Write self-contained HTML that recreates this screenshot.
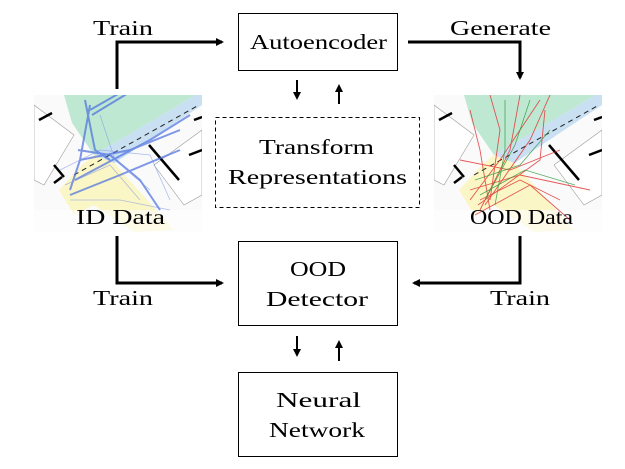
<!DOCTYPE html>
<html><head><style>
body{margin:0;background:#fff;}
svg{display:block;font-family:"Liberation Serif",serif;}
</style></head><body>
<svg width="625" height="469" viewBox="0 0 625 469">
<defs>
<marker id="ah" markerWidth="8" markerHeight="8" refX="6" refY="4" orient="auto" markerUnits="userSpaceOnUse"><path d="M0,0 L8,4 L0,8 Z" fill="#000"/></marker>
<marker id="as" markerWidth="8" markerHeight="8" refX="6" refY="4" orient="auto" markerUnits="userSpaceOnUse"><path d="M0,0 L8,4 L0,8 Z" fill="#000"/></marker>
<clipPath id="c1"><rect x="34" y="95" width="168" height="137"/></clipPath>
<clipPath id="c2"><rect x="434" y="95" width="168" height="137"/></clipPath>
<g id="map">
<rect x="0" y="0" width="168" height="137" fill="#fafafa"/>
<polygon points="30,0 120,0 162,0 60,60 38,28" fill="#bfe8d2"/>
<polygon points="162,0 168,0 168,10 70,75 60,60" fill="#c9dff2"/>
<polygon points="25,95 48,70 60,60 80,68 140,135 100,137 60,110 40,120" fill="#fbf6c5"/>
<polygon points="0,10 40,40 10,90 0,85" fill="#fff" stroke="#999" stroke-width="0.6"/>
<polygon points="120,70 168,35 168,100 150,110" fill="#fff" stroke="#999" stroke-width="0.6"/>
<path d="M5,25 L18,18 M20,70 L30,82 M28,82 L20,88" stroke="#000" stroke-width="2.5" fill="none"/>
<path d="M115,50 L145,85 M160,25 L168,22 M155,60 L168,55" stroke="#000" stroke-width="2.5" fill="none"/>
<path d="M40,80 L165,10" stroke="#222" stroke-width="1" stroke-dasharray="5,4"/>
<rect x="0" y="115" width="168" height="22" fill="#fff" opacity="0.6"/>
</g>
</defs>
<g clip-path="url(#c1)">
<use href="#map" x="34" y="95"/>
<g stroke="#4a6ee0" stroke-width="2" fill="none" opacity="0.7">
<path d="M90,110 L160,70"/><path d="M92,115 L158,75"/><path d="M85,100 L95,150 L110,160"/><path d="M90,105 L80,160 L70,190"/><path d="M75,180 L150,140 L190,115"/><path d="M78,150 L110,155 L140,180 L160,210"/><path d="M70,195 L120,175 L180,150"/><path d="M80,160 L130,150 L180,130"/>
</g>
<g stroke="#7d95ea" stroke-width="0.8" fill="none" opacity="0.6">
<path d="M60,170 L100,150 L150,155 L170,200"/><path d="M65,185 L110,165 L140,200"/><path d="M70,200 L120,200 L170,210"/><path d="M100,115 L115,160 L150,190"/>
</g>
</g>
<g clip-path="url(#c2)">
<use href="#map" x="434" y="95"/>
<g stroke="#e03030" stroke-width="0.9" fill="none" opacity="0.8">
<path d="M480,210 L510,150 L520,95"/><path d="M485,205 L530,140 L550,95"/><path d="M470,200 L500,160 L540,100"/><path d="M490,210 L480,150 L470,110"/><path d="M480,200 L520,180 L560,200"/><path d="M475,215 L530,185 L570,220"/><path d="M460,160 L510,170 L560,150"/><path d="M490,200 L500,130 L490,95"/><path d="M478,205 L540,160 L545,110"/><path d="M470,190 L520,175 L590,190"/>
</g>
<g stroke="#2e9a3a" stroke-width="0.8" fill="none" opacity="0.8">
<path d="M485,200 L515,145 L530,100"/><path d="M480,195 L525,170 L575,185"/><path d="M495,205 L505,150 L505,100"/><path d="M475,180 L520,165 L550,130"/>
</g>
</g>
<g font-size="21">
<text x="76" y="224" textLength="89" lengthAdjust="spacingAndGlyphs">ID Data</text>
<text x="470" y="224" textLength="103" lengthAdjust="spacingAndGlyphs">OOD Data</text>

<rect x="238.5" y="13.5" width="159" height="57" fill="#fff" stroke="#000"/>
<text x="250" y="49" textLength="137" lengthAdjust="spacingAndGlyphs">Autoencoder</text>
<rect x="215.5" y="117.5" width="204" height="90" fill="#fff" stroke="#000" stroke-dasharray="4,3"/>
<text x="259" y="154" textLength="115" lengthAdjust="spacingAndGlyphs">Transform</text>
<text x="228" y="184" textLength="179" lengthAdjust="spacingAndGlyphs">Representations</text>
<rect x="238.5" y="241.5" width="159" height="84" fill="#fff" stroke="#000"/>
<text x="290" y="276" textLength="56" lengthAdjust="spacingAndGlyphs">OOD</text>
<text x="266" y="306" textLength="102" lengthAdjust="spacingAndGlyphs">Detector</text>
<rect x="238.5" y="372.5" width="159" height="84" fill="#fff" stroke="#000"/>
<text x="276" y="407" textLength="85" lengthAdjust="spacingAndGlyphs">Neural</text>
<text x="269" y="437" textLength="96" lengthAdjust="spacingAndGlyphs">Network</text>

<text x="93" y="35" textLength="60" lengthAdjust="spacingAndGlyphs">Train</text>
<text x="450" y="35" textLength="101" lengthAdjust="spacingAndGlyphs">Generate</text>
<text x="93" y="305" textLength="60" lengthAdjust="spacingAndGlyphs">Train</text>
<text x="490" y="305" textLength="60" lengthAdjust="spacingAndGlyphs">Train</text>
</g>
<g stroke="#000" stroke-width="3" fill="none">
<path d="M117,89 V42 H222" marker-end="url(#ah)"/>
<path d="M408,42 H520 V78" marker-end="url(#ah)"/>
<path d="M117,236 V283 H222" marker-end="url(#ah)"/>
<path d="M520,236 V283 H414" marker-end="url(#ah)"/>
</g>
<g stroke="#000" stroke-width="2" fill="none">
<path d="M297,80 V98" marker-end="url(#as)"/>
<path d="M339,104 V86" marker-end="url(#as)"/>
<path d="M297,336 V355" marker-end="url(#as)"/>
<path d="M339,361 V342" marker-end="url(#as)"/>
</g>
</svg>
</body></html>
